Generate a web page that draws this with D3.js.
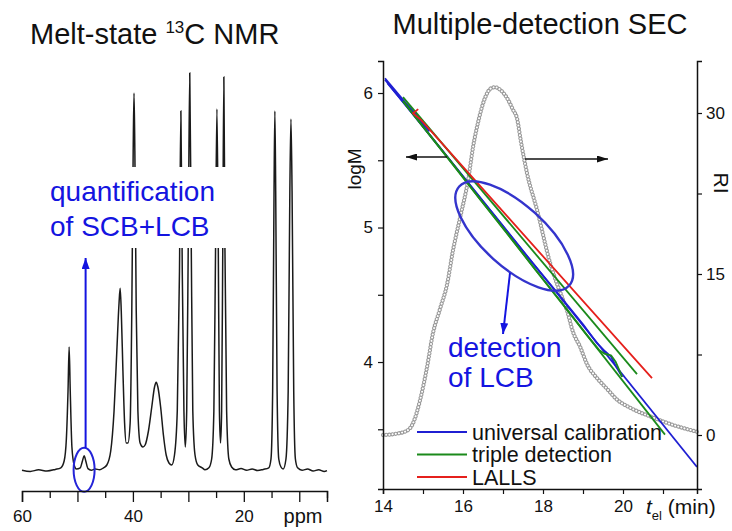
<!DOCTYPE html>
<html>
<head>
<meta charset="utf-8">
<script src="https://cdn.jsdelivr.net/npm/d3@7"></script>
<style>
  body { margin: 0; background: #fff; }
  svg { display: block; font-family: "Liberation Sans", Arial, sans-serif; }
</style>
</head>
<body>
<div id="chart"></div>
<script>
// ---------- NMR spectrum (ppm, intensity) ----------
const nmrPpm = [60.0, 58.5, 57.0, 55.5, 54.0, 53.0, 52.4, 52.0, 51.7, 51.5, 51.3, 51.0, 50.6, 50.2,
  49.5, 49.1, 48.8, 48.5, 48.1, 47.5, 46.8, 46.0, 45.3, 44.7, 44.0, 43.4, 42.9, 42.5, 42.3, 42.1,
  41.8, 41.5, 41.2, 40.9, 40.5, 40.2, 39.95, 39.8, 39.65, 39.4, 39.1, 38.7, 38.2, 37.8, 37.2, 36.6,
  36.1, 35.8, 35.5, 35.0, 34.5, 34.0, 33.5, 33.0, 32.5, 32.0, 31.6, 31.35, 31.1, 30.8, 30.55, 30.3,
  30.0, 29.75, 29.5, 29.2, 28.8, 28.3, 27.5, 27.0, 26.3, 25.8, 25.4, 25.1, 24.85, 24.6, 24.4, 24.2,
  24.0, 23.8, 23.6, 23.4, 23.1, 22.7, 22.2, 21.5, 20.5, 19.5, 18.5, 17.5, 16.5, 15.5, 15.1, 14.8,
  14.55, 14.4, 14.25, 14.0, 13.7, 13.3, 12.9, 12.4, 12.0, 11.7, 11.5, 11.3, 11.0, 10.7, 10.3, 9.5,
  8.5, 7.5, 6.5, 5.5, 5.0];
const nmrInt = [0.2, -0.1, 0.3, 0.0, 0.4, 0.8, 2.5, 8, 20, 31, 20, 6, 1.5, 0.5,
  0.8, 2.5, 3.8, 2.5, 0.6, 0.2, 0.5, 0.3, 0.8, 1.5, 5, 15, 30, 42, 45.7, 40,
  25, 12, 7, 7, 12, 40, 80, 94.5, 80, 40, 15, 7, 6, 6.5, 10, 16,
  21, 22.2, 21, 16, 9, 4, 2, 1.5, 4, 15, 50, 90, 50, 15, 6, 15,
  60, 99.5, 60, 15, 4, 1.5, 0.8, 0.3, 0.8, 3, 15, 55, 90.5, 55, 15, 7,
  15, 55, 98.5, 55, 15, 3, 1, 0.3, 0.6, 0.2, 0.5, 0.1, 0.4, 0.8, 3, 20,
  70, 90, 70, 20, 3, 1, 0.5, 3, 20, 70, 88, 70, 20, 3, 0.8, 0.2,
  0.5, 0.0, 0.3, -0.1, 0.1];
const nmrTicks = [60, 55, 50, 45, 40, 35, 30, 25, 20, 15, 10, 5];
const nmrLabels = [60, 40, 20];
const lcbPeakPpm = 48.8;

// ---------- SEC: RI trace (elution time, RI) ----------
const riTime = [14.0, 14.3, 14.6, 14.75, 14.93, 15.1, 15.25, 15.43, 15.6, 15.75, 15.93, 16.13, 16.25,
  16.4, 16.55, 16.7, 16.8, 16.95, 17.1, 17.25, 17.35, 17.45, 17.6, 17.85, 18.18, 18.5, 18.6, 18.75,
  18.93, 19.1, 19.35, 19.6, 19.85, 20.2, 20.7, 21.2, 21.85];
const riValue = [0.0, 0.1, 0.4, 1.1, 3.3, 6.3, 9.5, 11.8, 14.0, 17.2, 20.3, 23.8, 26.8,
  29.5, 31.4, 32.3, 32.4, 32.1, 31.4, 30.3, 29.5, 27.3, 24.4, 21.0, 16.0, 12.6, 11.6, 9.6,
  8.2, 6.6, 5.3, 4.3, 3.3, 2.5, 1.7, 1.0, 0.3];

// ---------- SEC: logM vs elution time ----------
const ucTime = [14.05, 15.15, 15.08, 14.12, 14.9, 15.6, 16.3, 17.0, 17.7, 18.4, 19.0, 19.35, 19.55, 19.7, 19.8, 19.98];
const ucLogM = [6.11, 5.72, 5.76, 6.07, 5.79, 5.53, 5.27, 5.01, 4.75, 4.50, 4.28, 4.14, 4.08, 4.04, 3.98, 3.89];
const ucFitTime = [14.05, 21.85];
const ucFitLogM = [6.10, 3.22];
const tdTime = [14.5, 15.0, 15.7, 16.4, 17.1, 17.8, 18.5, 19.1, 19.4, 19.55, 19.7, 19.82, 19.98];
const tdLogM = [5.94, 5.75, 5.49, 5.22, 4.96, 4.69, 4.43, 4.20, 4.09, 4.06, 4.05, 4.00, 3.89];
const tdFitTime = [14.5, 21.05];
const tdFitLogM = [5.94, 3.46];
const td2Time = [14.5, 20.35];
const td2LogM = [5.97, 3.91];
const lallsTime = [14.88, 14.75, 14.95, 20.725];
const lallsLogM = [5.88, 5.85, 5.80, 3.88];

const legendNames = ["universal calibration", "triple detection", "LALLS"];
const seriesColors = ["#1f1fd2", "#1b8a1b", "#e5201c"];

const xTicks = [14, 15, 16, 17, 18, 19, 20, 21];
const xLabels = [14, 16, 18, 20];
const mTicks = [3.5, 4, 4.5, 5, 5.5, 6];
const riTicks = [0, 7.5, 15, 22.5, 30];

const W = 732, H = 531;
const annBlue = "#1414e0";

const svg = d3.select("#chart").append("svg")
    .attr("width", W)
    .attr("height", H);

const defs = svg.append("defs");
function arrowMarker(id, color, w, l) {
  defs.append("marker")
      .attr("id", id)
      .attr("viewBox", `0 ${-w / 2} ${l} ${w}`)
      .attr("refX", l).attr("refY", 0)
      .attr("markerUnits", "userSpaceOnUse")
      .attr("markerWidth", l).attr("markerHeight", w)
      .attr("orient", "auto")
    .append("path")
      .attr("d", `M0,${-w / 2}L${l},0L0,${w / 2}Z`)
      .attr("fill", color);
}
arrowMarker("arrBlack", "#111", 7, 11);
arrowMarker("arrBlue", annBlue, 8, 11);

// ================= left panel: NMR =================
const xN = d3.scaleLinear().domain([60, 5]).range([22, 327]);
const yN = d3.scaleLinear().domain([0, 100]).range([471, 71]);

const nmr = svg.append("g");

nmr.append("path")
    .datum(d3.zip(nmrPpm, nmrInt))
    .attr("fill", "none")
    .attr("stroke", "#1a1a1a")
    .attr("stroke-width", 1.5)
    .attr("d", d3.line().x(d => xN(d[0])).y(d => yN(d[1])).curve(d3.curveMonotoneX));

// white box behind the annotation text (hides the peaks)
nmr.append("rect")
    .attr("x", 45).attr("y", 167)
    .attr("width", 195).attr("height", 81)
    .attr("fill", "#fff");

nmr.append("text")
    .attr("x", 50).attr("y", 201)
    .attr("fill", annBlue)
    .style("font-size", "28px")
    .text("quantification");
nmr.append("text")
    .attr("x", 50).attr("y", 236)
    .attr("fill", annBlue)
    .style("font-size", "28px")
    .text("of SCB+LCB");

nmr.append("ellipse")
    .attr("cx", xN(lcbPeakPpm)).attr("cy", yN(0.3))
    .attr("rx", 10.5).attr("ry", 22)
    .attr("fill", "none")
    .attr("stroke", "#2424d8")
    .attr("stroke-width", 2);

nmr.append("line")
    .attr("x1", xN(lcbPeakPpm) + 1.5).attr("y1", yN(0.3) - 22)
    .attr("x2", xN(lcbPeakPpm) + 1.5).attr("y2", 258)
    .attr("stroke", annBlue)
    .attr("stroke-width", 2)
    .attr("marker-end", "url(#arrBlue)");

const axN = nmr.append("g")
    .attr("transform", "translate(0,491)")
    .call(d3.axisBottom(xN)
      .tickValues(nmrTicks)
      .tickSizeOuter(0)
      .tickSize(11)
      .tickPadding(8)
      .tickFormat(d => nmrLabels.includes(d) ? d : ""));
axN.select(".domain").attr("stroke-width", 1.5).attr("stroke", "#111");
axN.selectAll(".tick line").attr("stroke-width", 1.3).attr("stroke", "#111")
    .attr("y2", d => d % 10 === 0 ? 11 : 7);
axN.selectAll(".tick text").style("font-size", "17px").attr("fill", "#111")
    .style("font-family", "'Liberation Sans', Arial, sans-serif");

nmr.append("text")
    .attr("x", 303).attr("y", 523)
    .attr("text-anchor", "middle")
    .style("font-size", "20px")
    .attr("fill", "#111")
    .text("ppm");

const t1 = nmr.append("text")
    .attr("x", 30).attr("y", 44)
    .style("font-size", "29px")
    .attr("fill", "#111");
t1.append("tspan").text("Melt-state ");
t1.append("tspan").attr("dy", -11).style("font-size", "17px").text("13");
t1.append("tspan").attr("dy", 11).text("C NMR");

// ================= right panel: SEC =================
const xS = d3.scaleLinear().domain([14, 21.85]).range([383, 697]);
const yM = d3.scaleLinear().domain([3.056, 6.238]).range([489, 61]);
const yR = d3.scaleLinear().domain([-5.031, 34.845]).range([489, 61]);

const sec = svg.append("g");

// RI trace: chain of open circles
const riLine = d3.line().x(d => xS(d[0])).y(d => yR(d[1])).curve(d3.curveMonotoneX);
const riData = d3.zip(riTime, riValue);
sec.append("path").datum(riData)
    .attr("d", riLine)
    .attr("fill", "none")
    .attr("stroke", "#9a9a9a")
    .attr("stroke-width", 4.2)
    .attr("stroke-linecap", "round")
    .attr("stroke-dasharray", "0.01 3.2");
sec.append("path").datum(riData)
    .attr("d", riLine)
    .attr("fill", "none")
    .attr("stroke", "#fff")
    .attr("stroke-width", 2)
    .attr("stroke-linecap", "round")
    .attr("stroke-dasharray", "0.01 3.2");

const mLine = d3.line().x(d => xS(d[0])).y(d => yM(d[1]));
const lineSeries = [
  { t: ucFitTime, m: ucFitLogM, c: seriesColors[0] },
  { t: ucTime, m: ucLogM, c: seriesColors[0] },
  { t: tdFitTime, m: tdFitLogM, c: seriesColors[1] },
  { t: tdTime, m: tdLogM, c: seriesColors[1] },
  { t: td2Time, m: td2LogM, c: seriesColors[1] },
  { t: lallsTime, m: lallsLogM, c: seriesColors[2] }
];
sec.selectAll("path.series")
  .data(lineSeries)
  .join("path")
    .attr("class", "series")
    .attr("d", d => mLine(d3.zip(d.t, d.m)))
    .attr("fill", "none")
    .attr("stroke", d => d.c)
    .attr("stroke-width", 1.8)
    .attr("stroke-linejoin", "round");

// axes
const axB = sec.append("g")
    .attr("transform", "translate(0,489)")
    .call(d3.axisBottom(xS).tickValues(xTicks).tickSizeOuter(0).tickSize(5).tickPadding(6)
      .tickFormat(d => xLabels.includes(d) ? d : ""));
const axL = sec.append("g")
    .attr("transform", "translate(383,0)")
    .call(d3.axisLeft(yM).tickValues(mTicks).tickSizeOuter(0).tickSize(5).tickPadding(5)
      .tickFormat(d => Number.isInteger(d) ? d : ""));
const axR = sec.append("g")
    .attr("transform", "translate(697,0)")
    .call(d3.axisRight(yR).tickValues(riTicks).tickSizeOuter(0).tickSize(5).tickPadding(4)
      .tickFormat(d => Number.isInteger(d) ? d : ""));
[axB, axL, axR].forEach(a => {
  a.select(".domain").attr("stroke", "#111").attr("stroke-width", 1.5);
  a.selectAll(".tick line").attr("stroke", "#111").attr("stroke-width", 1.2);
  a.selectAll(".tick text").style("font-size", "17px").attr("fill", "#111")
      .style("font-family", "'Liberation Sans', Arial, sans-serif");
});

sec.append("text")
    .attr("transform", "translate(361,169) rotate(-90)")
    .attr("text-anchor", "middle")
    .style("font-size", "19px")
    .attr("fill", "#111")
    .text("logM");
sec.append("text")
    .attr("transform", "translate(714,183) rotate(90)")
    .attr("text-anchor", "middle")
    .style("font-size", "21px")
    .attr("fill", "#111")
    .text("RI");

const xt = sec.append("text")
    .attr("x", 646).attr("y", 514)
    .style("font-size", "21px")
    .attr("fill", "#111");
xt.append("tspan").style("font-style", "italic").text("t");
xt.append("tspan").attr("dy", 6).style("font-size", "13px").text("el");
xt.append("tspan").attr("dy", -6).text(" (min)");

// black arrows (which axis each curve belongs to)
sec.append("line")
    .attr("x1", 447).attr("y1", 157).attr("x2", 406).attr("y2", 157)
    .attr("stroke", "#111").attr("stroke-width", 1.6)
    .attr("marker-end", "url(#arrBlack)");
sec.append("line")
    .attr("x1", 525).attr("y1", 159).attr("x2", 608).attr("y2", 159)
    .attr("stroke", "#111").attr("stroke-width", 1.6)
    .attr("marker-end", "url(#arrBlack)");

// LCB ellipse and arrow
sec.append("ellipse")
    .attr("transform", `translate(${xS(17.28)},${yM(4.937)}) rotate(42)`)
    .attr("rx", 74).attr("ry", 31)
    .attr("fill", "none")
    .attr("stroke", "#3434cc")
    .attr("stroke-width", 2.4);
sec.append("line")
    .attr("x1", 510).attr("y1", 273).attr("x2", 503).attr("y2", 334)
    .attr("stroke", annBlue).attr("stroke-width", 2)
    .attr("marker-end", "url(#arrBlue)");

sec.append("text")
    .attr("x", 448).attr("y", 357)
    .attr("fill", annBlue)
    .style("font-size", "28px")
    .text("detection");
sec.append("text")
    .attr("x", 448).attr("y", 387)
    .attr("fill", annBlue)
    .style("font-size", "28px")
    .text("of LCB");

// legend
const leg = sec.append("g")
  .selectAll("g")
  .data(legendNames)
  .join("g")
    .attr("transform", (d, i) => `translate(417,${432 + i * 22.5})`);
leg.append("line")
    .attr("x2", 50)
    .attr("stroke", (d, i) => seriesColors[i])
    .attr("stroke-width", 1.8);
leg.append("text")
    .attr("x", 55).attr("dy", "0.35em")
    .style("font-size", "21.5px")
    .attr("fill", "#111")
    .text(d => d);

sec.append("text")
    .attr("x", 540).attr("y", 34)
    .attr("text-anchor", "middle")
    .style("font-size", "29px")
    .attr("fill", "#111")
    .text("Multiple-detection SEC");
</script>
</body>
</html>
